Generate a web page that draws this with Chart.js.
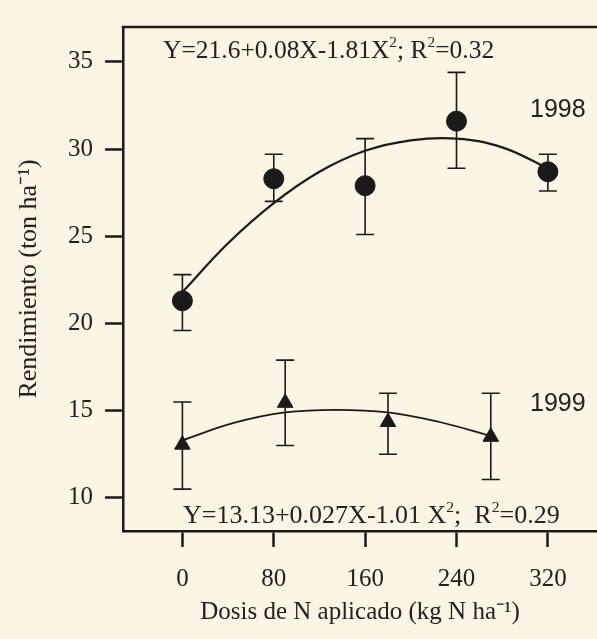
<!DOCTYPE html>
<html>
<head>
<meta charset="utf-8">
<script src="https://cdn.jsdelivr.net/npm/chart.js@4.4.1/dist/chart.umd.min.js"></script>
<style>
  body { margin: 0; background: #faf6e3; }
  canvas { display: block; }
</style>
</head>
<body>
<canvas id="grafica" width="597" height="639"></canvas>
<script>
// valores
const xTicks = [0, 80, 160, 240, 320];
const yTicks = [10, 15, 20, 25, 30, 35];

const dosis1998 = [0, 80, 160, 240, 320];
const rend1998 = [21.3, 28.3, 27.9, 31.6, 28.7];
const min1998 = [19.6, 27.0, 25.1, 28.9, 27.6];
const max1998 = [22.8, 29.7, 30.6, 34.4, 29.7];

const dosis1999 = [0, 90, 180, 270];
const rend1999 = [13.05, 15.45, 14.35, 13.5];
const min1999 = [10.5, 13.0, 12.5, 11.05];
const max1999 = [15.5, 17.9, 16.0, 16.0];

// curvas de ajuste (puntos leidos sobre la linea)
const curvaX1998 = [0, 40, 80, 120, 160, 200, 240, 280, 320];
const curvaY1998 = [21.8, 24.6, 26.9, 28.7, 29.9, 30.5, 30.6, 30.1, 28.9];
const curvaX1999 = [0, 45, 90, 135, 180, 225, 270];
const curvaY1999 = [13.3, 14.3, 14.9, 15.05, 14.9, 14.35, 13.55];

const tinta = '#1a1a1a';
const serif = 'Liberation Serif';

function pares(xs, ys) {
  return xs.map((v, i) => ({ x: v, y: ys[i] }));
}

// texto con superindices: [texto, esSuper]
function textoRico(ctx, partes, x, y, size) {
  let cx = x;
  partes.forEach(p => {
    const s = p[1] ? size * 0.6 : size;
    ctx.font = s + 'px "' + serif + '"';
    ctx.fillText(p[0], cx, p[1] ? y - size * 0.42 : y);
    cx += ctx.measureText(p[0]).width;
  });
}

const barrasError = {
  id: 'barrasError',
  beforeDatasetsDraw(chart) {
    const ctx = chart.ctx;
    const sx = chart.scales.x, sy = chart.scales.y;
    ctx.save();
    ctx.strokeStyle = tinta;
    ctx.lineWidth = 1.6;
    const dibujar = (xs, lo, hi) => {
      xs.forEach((v, i) => {
        const px = sx.getPixelForValue(v);
        const y1 = sy.getPixelForValue(lo[i]);
        const y2 = sy.getPixelForValue(hi[i]);
        ctx.beginPath();
        ctx.moveTo(px, y1); ctx.lineTo(px, y2);
        ctx.moveTo(px - 9, y1); ctx.lineTo(px + 9, y1);
        ctx.moveTo(px - 9, y2); ctx.lineTo(px + 9, y2);
        ctx.stroke();
      });
    };
    dibujar(dosis1998, min1998, max1998);
    dibujar(dosis1999, min1999, max1999);
    ctx.restore();
  }
};

const textos = {
  id: 'textos',
  beforeDraw(chart) {
    const ctx = chart.ctx;
    ctx.save();
    ctx.fillStyle = '#faf6e3';
    ctx.fillRect(0, 0, chart.width, chart.height);
    ctx.restore();
  },
  afterDraw(chart) {
    const ctx = chart.ctx;
    const a = chart.chartArea;
    ctx.save();
    // borde superior
    ctx.strokeStyle = tinta;
    ctx.lineWidth = 2.5;
    ctx.beginPath();
    ctx.moveTo(a.left - 1.25, a.top);
    ctx.lineTo(a.right, a.top);
    ctx.stroke();

    ctx.fillStyle = '#222';
    ctx.textBaseline = 'alphabetic';
    ctx.textAlign = 'left';
    textoRico(ctx, [['Y=21.6+0.08X-1.81X'], ['2', true], ['; R'], ['2', true], ['=0.32']], 163, 58, 25.5);
    textoRico(ctx, [['Y=13.13+0.027X-1.01 X'], ['2', true], [';  R'], ['2', true], ['=0.29']], 183, 523, 26);

    ctx.font = '25px "Liberation Sans"';
    ctx.textBaseline = 'middle';
    ctx.fillText('1998', 530, 110);
    ctx.fillText('1999', 530, 404);
    ctx.restore();
  }
};

const config = {
  type: 'scatter',
  data: {
    datasets: [
      {
        label: '1998',
        data: pares(dosis1998, rend1998),
        pointStyle: 'circle',
        pointRadius: 10,
        backgroundColor: tinta,
        borderColor: tinta
      },
      {
        label: '1999',
        data: pares(dosis1999, rend1999),
        pointStyle: 'triangle',
        pointRadius: 9,
        backgroundColor: tinta,
        borderColor: tinta
      },
      {
        label: 'ajuste 1998',
        data: pares(curvaX1998, curvaY1998),
        showLine: true,
        pointRadius: 0,
        borderColor: tinta,
        borderWidth: 2.2,
        tension: 0.4
      },
      {
        label: 'ajuste 1999',
        data: pares(curvaX1999, curvaY1999),
        showLine: true,
        pointRadius: 0,
        borderColor: tinta,
        borderWidth: 1.7,
        tension: 0.4
      }
    ]
  },
  options: {
    responsive: false,
    animation: false,
    layout: { autoPadding: false, padding: { top: 15, right: 0, bottom: 0, left: 0 } },
    plugins: {
      legend: { display: false },
      tooltip: { enabled: false }
    },
    scales: {
      x: {
        type: 'linear',
        min: -52,
        max: 363,
        afterBuildTicks: s => { s.ticks = xTicks.map(v => ({ value: v })); },
        afterFit: s => { s.height = 108; s.paddingLeft = 0; s.paddingRight = 0; },
        grid: { drawOnChartArea: false, tickLength: 16, tickWidth: 2.5, tickColor: tinta },
        border: { color: tinta, width: 2.5 },
        ticks: { font: { family: serif, size: 25 }, color: '#222', padding: 17, maxRotation: 0 },
        title: {
          display: true,
          text: 'Dosis de N aplicado (kg N ha⁻¹)',
          font: { family: serif, size: 25 },
          color: '#222',
          padding: { top: 0, bottom: 12 }
        }
      },
      y: {
        min: 8.1,
        max: 37.0,
        afterBuildTicks: s => { s.ticks = yTicks.map(v => ({ value: v })); },
        afterFit: s => { s.width = 123; },
        grid: { drawOnChartArea: false, tickLength: 18, tickWidth: 2.5, tickColor: tinta },
        border: { color: tinta, width: 2.5 },
        ticks: { font: { family: serif, size: 25 }, color: '#222', padding: 12 },
        title: {
          display: true,
          text: 'Rendimiento (ton ha⁻¹)',
          font: { family: serif, size: 26 },
          color: '#222',
          padding: { top: 14, bottom: 0 }
        }
      }
    }
  },
  plugins: [barrasError, textos]
};

const grafica = new Chart(document.getElementById('grafica'), config);
</script>
</body>
</html>
